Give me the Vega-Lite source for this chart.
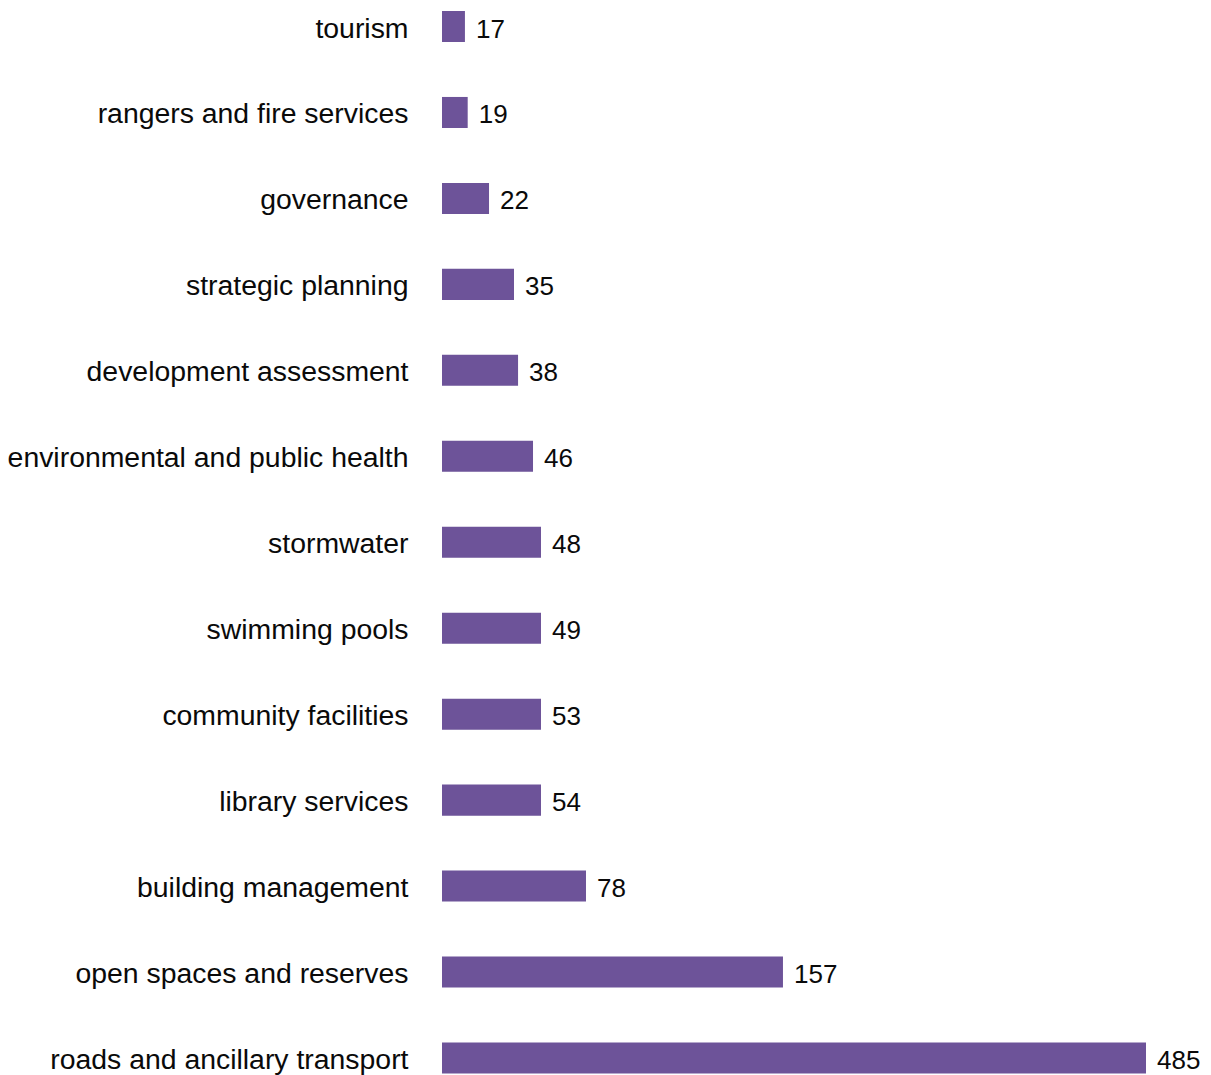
{
  "$schema": "https://vega.github.io/schema/vega-lite/v6.json",
  "width": 704,
  "height": 1075,
  "padding": {"left": 7, "top": 0, "right": 0, "bottom": 0},
  "background": "white",
  "config": {
    "view": {"stroke": null},
    "font": "Liberation Sans"
  },
  "data": {
    "values": [
      {"category": "tourism", "value": 17, "bar": 15.8},
      {"category": "rangers and fire services", "value": 19, "bar": 17.7},
      {"category": "governance", "value": 22, "bar": 32.4},
      {"category": "strategic planning", "value": 35, "bar": 49.6},
      {"category": "development assessment", "value": 38, "bar": 52.4},
      {"category": "environmental and public health", "value": 46, "bar": 62.7},
      {"category": "stormwater", "value": 48, "bar": 68.2},
      {"category": "swimming pools", "value": 49, "bar": 68.2},
      {"category": "community facilities", "value": 53, "bar": 68.2},
      {"category": "library services", "value": 54, "bar": 68.2},
      {"category": "building management", "value": 78, "bar": 99.2},
      {"category": "open spaces and reserves", "value": 157, "bar": 234.9},
      {"category": "roads and ancillary transport", "value": 485, "bar": 485}
    ]
  },
  "encoding": {
    "y": {
      "field": "category",
      "type": "nominal",
      "sort": null,
      "scale": {"paddingInner": 0.639, "paddingOuter": 0.0727, "align": 0.88},
      "axis": {
        "title": null,
        "domain": false,
        "ticks": false,
        "grid": false,
        "labelFont": "Liberation Sans",
        "labelFontSize": 28.4,
        "labelColor": "#0a0a0a",
        "labelPadding": 34,
        "labelLimit": 600,
        "labelBaseline": "middle",
        "labelOffset": 2
      }
    },
    "x": {
      "field": "bar",
      "type": "quantitative",
      "scale": {"domain": [0, 485], "nice": false, "zero": true},
      "axis": null
    }
  },
  "layer": [
    {"mark": {"type": "bar", "color": "#6d5399"}},
    {
      "mark": {
        "type": "text",
        "align": "left",
        "baseline": "middle",
        "dx": 11,
        "dy": 3,
        "fontSize": 26,
        "font": "Liberation Sans",
        "color": "#0a0a0a"
      },
      "encoding": {"text": {"field": "value", "type": "quantitative"}}
    }
  ]
}
